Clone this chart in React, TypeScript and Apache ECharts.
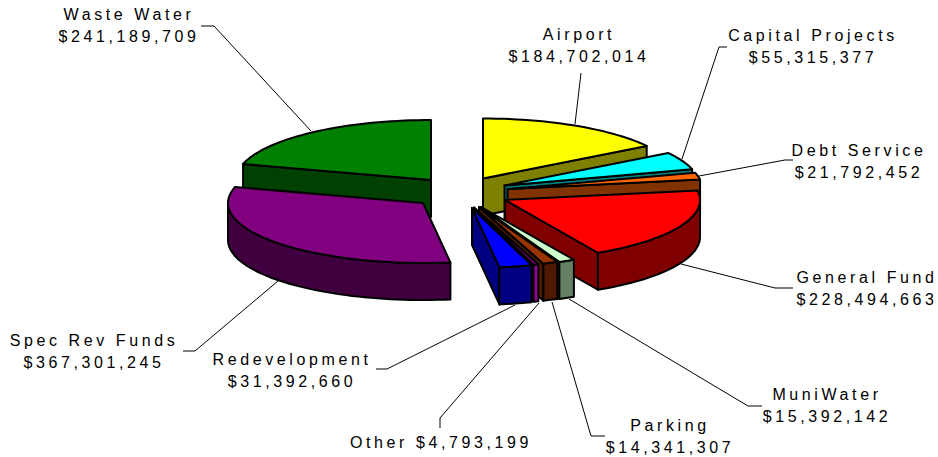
import React, { useEffect, useRef } from "react";
import * as echarts from "echarts";

const names = ["Airport", "Capital Projects", "Debt Service", "General Fund", "MuniWater", "Parking", "Other", "Redevelopment", "Spec Rev Funds", "Waste Water"];
const values = [184702014, 55315377, 21792452, 228494663, 15392142, 14341307, 4793199, 31392660, 367301245, 241189709];
const topColors = ["#FFFF00", "#00FFFF", "#FF6600", "#FF0000", "#CCFFCC", "#993300", "#800080", "#0000FF", "#800080", "#008000"];
const sideColors = ["#808000", "#008080", "#803300", "#800000", "#668066", "#4D1A00", "#990099", "#000080", "#400040", "#004000"];

// layout of the exploded pie
const apexes = [[483, 178.5], [504.5, 185.5], [507.5, 189], [505, 200], [481, 207], [479, 207], [474, 207.5], [472, 208], [423, 203], [431, 180]];
const paintOrder = [1, 2, 3, 4, 5, 6, 7, 8, 9, 0];
const RX = 195, RY = 60, DEPTH = 37;

const labelPos = [[579, 45], [813, 46.5], [859, 161], [867, 288], [827, 405], [670, 436], [441, 442], [292, 370], [94, 351], [129, 25]];
const leaders = [
  [[581, 73], [575, 124]],
  [[727, 47], [719, 47], [682, 159]],
  [[793, 160], [785, 160], [699, 176]],
  [[793, 288], [775, 288], [681, 264]],
  [[762, 406], [748, 406], [569, 299]],
  [[605, 436], [591, 436], [552, 302]],
  [[440, 428], [440, 418], [539, 303]],
  [[376, 369], [387, 369], [515, 305]],
  [[183, 351], [195, 351], [278, 281]],
  [[201, 26], [214, 26], [311, 131]],
];

const total = values.reduce((a, b) => a + b, 0);
const fmt = (v: number) => "$" + v.toLocaleString("en-US");

function renderSlice(params: any, api: any) {
  const i = params.dataIndex;
  const v = api.value(0);
  let before = 0;
  for (let k = 0; k < i; k++) before += values[k];
  const a0 = (before / total) * 360;
  const a1 = a0 + (v / total) * 360;
  const [cx, cy] = apexes[i];
  const pt = (deg: number, dy = 0) => {
    const r = (deg * Math.PI) / 180;
    return [cx + RX * Math.sin(r), cy - RY * Math.cos(r) + dy];
  };
  const arc = (s: number, e: number, dy = 0) => {
    const n = Math.max(2, Math.ceil((e - s) / 2));
    const out: number[][] = [];
    for (let k = 0; k <= n; k++) out.push(pt(s + ((e - s) * k) / n, dy));
    return out;
  };
  const z2 = paintOrder[i] * 10;
  const lw = 2;
  const poly = (points: number[][], fill: string, z: number) => ({
    type: "polygon",
    z2: z2 + z,
    shape: { points },
    style: { fill, stroke: "#000", lineWidth: lw, lineJoin: "round" },
    silent: true,
  });
  const children: any[] = [];
  if (a0 > 180 && a0 < 360) {
    children.push(poly([[cx, cy], pt(a0), pt(a0, DEPTH), [cx, cy + DEPTH]], sideColors[i], 0));
  }
  if (a1 > 0 && a1 < 180) {
    children.push(poly([[cx, cy], pt(a1), pt(a1, DEPTH), [cx, cy + DEPTH]], sideColors[i], 0));
  }
  const ws = Math.max(a0, 90), we = Math.min(a1, 270);
  if (we > ws) {
    children.push(poly([...arc(ws, we), ...arc(ws, we, DEPTH).reverse()], sideColors[i], 1));
  }
  children.push(poly([[cx, cy], ...arc(a0, a1)], topColors[i], 2));
  return { type: "group", children };
}

export default function App() {
  const ref = useRef<HTMLDivElement>(null);
  useEffect(() => {
    const chart = echarts.init(ref.current!, undefined, { renderer: "svg" });
    const font = { fontFamily: "Liberation Sans, Arial, sans-serif", fontSize: 16 };
    const texts = names.map((n, i) => ({
      type: "text",
      x: labelPos[i][0],
      y: labelPos[i][1],
      z: 5,
      silent: true,
      style: {
        text: n === "Other" ? `${n} ${fmt(values[i])}` : `${n}\n${fmt(values[i])}`,
        ...font,
        fill: "#000",
        align: "center",
        verticalAlign: "middle",
        textAlign: "center",
        textVerticalAlign: "middle",
        lineHeight: 22,
      },
    }));
    const lines = leaders.map((points) => ({
      type: "polyline",
      z: 1,
      silent: true,
      shape: { points },
      style: { fill: "none", stroke: "#000", lineWidth: 1 },
    }));
    chart.setOption({
      animation: false,
      backgroundColor: "#fff",
      graphic: { elements: [...lines, ...texts] },
      series: [
        {
          type: "custom",
          coordinateSystem: "none",
          z: 2,
          silent: true,
          clip: false,
          renderItem: renderSlice,
          data: values.map((v, i) => ({ name: names[i], value: [v] })),
        },
      ],
    });
    return () => chart.dispose();
  }, []);
  return (
    <div
      ref={ref}
      style={{ position: "fixed", left: 0, top: 0, width: 938, height: 457, letterSpacing: "3.6px" }}
    />
  );
}
